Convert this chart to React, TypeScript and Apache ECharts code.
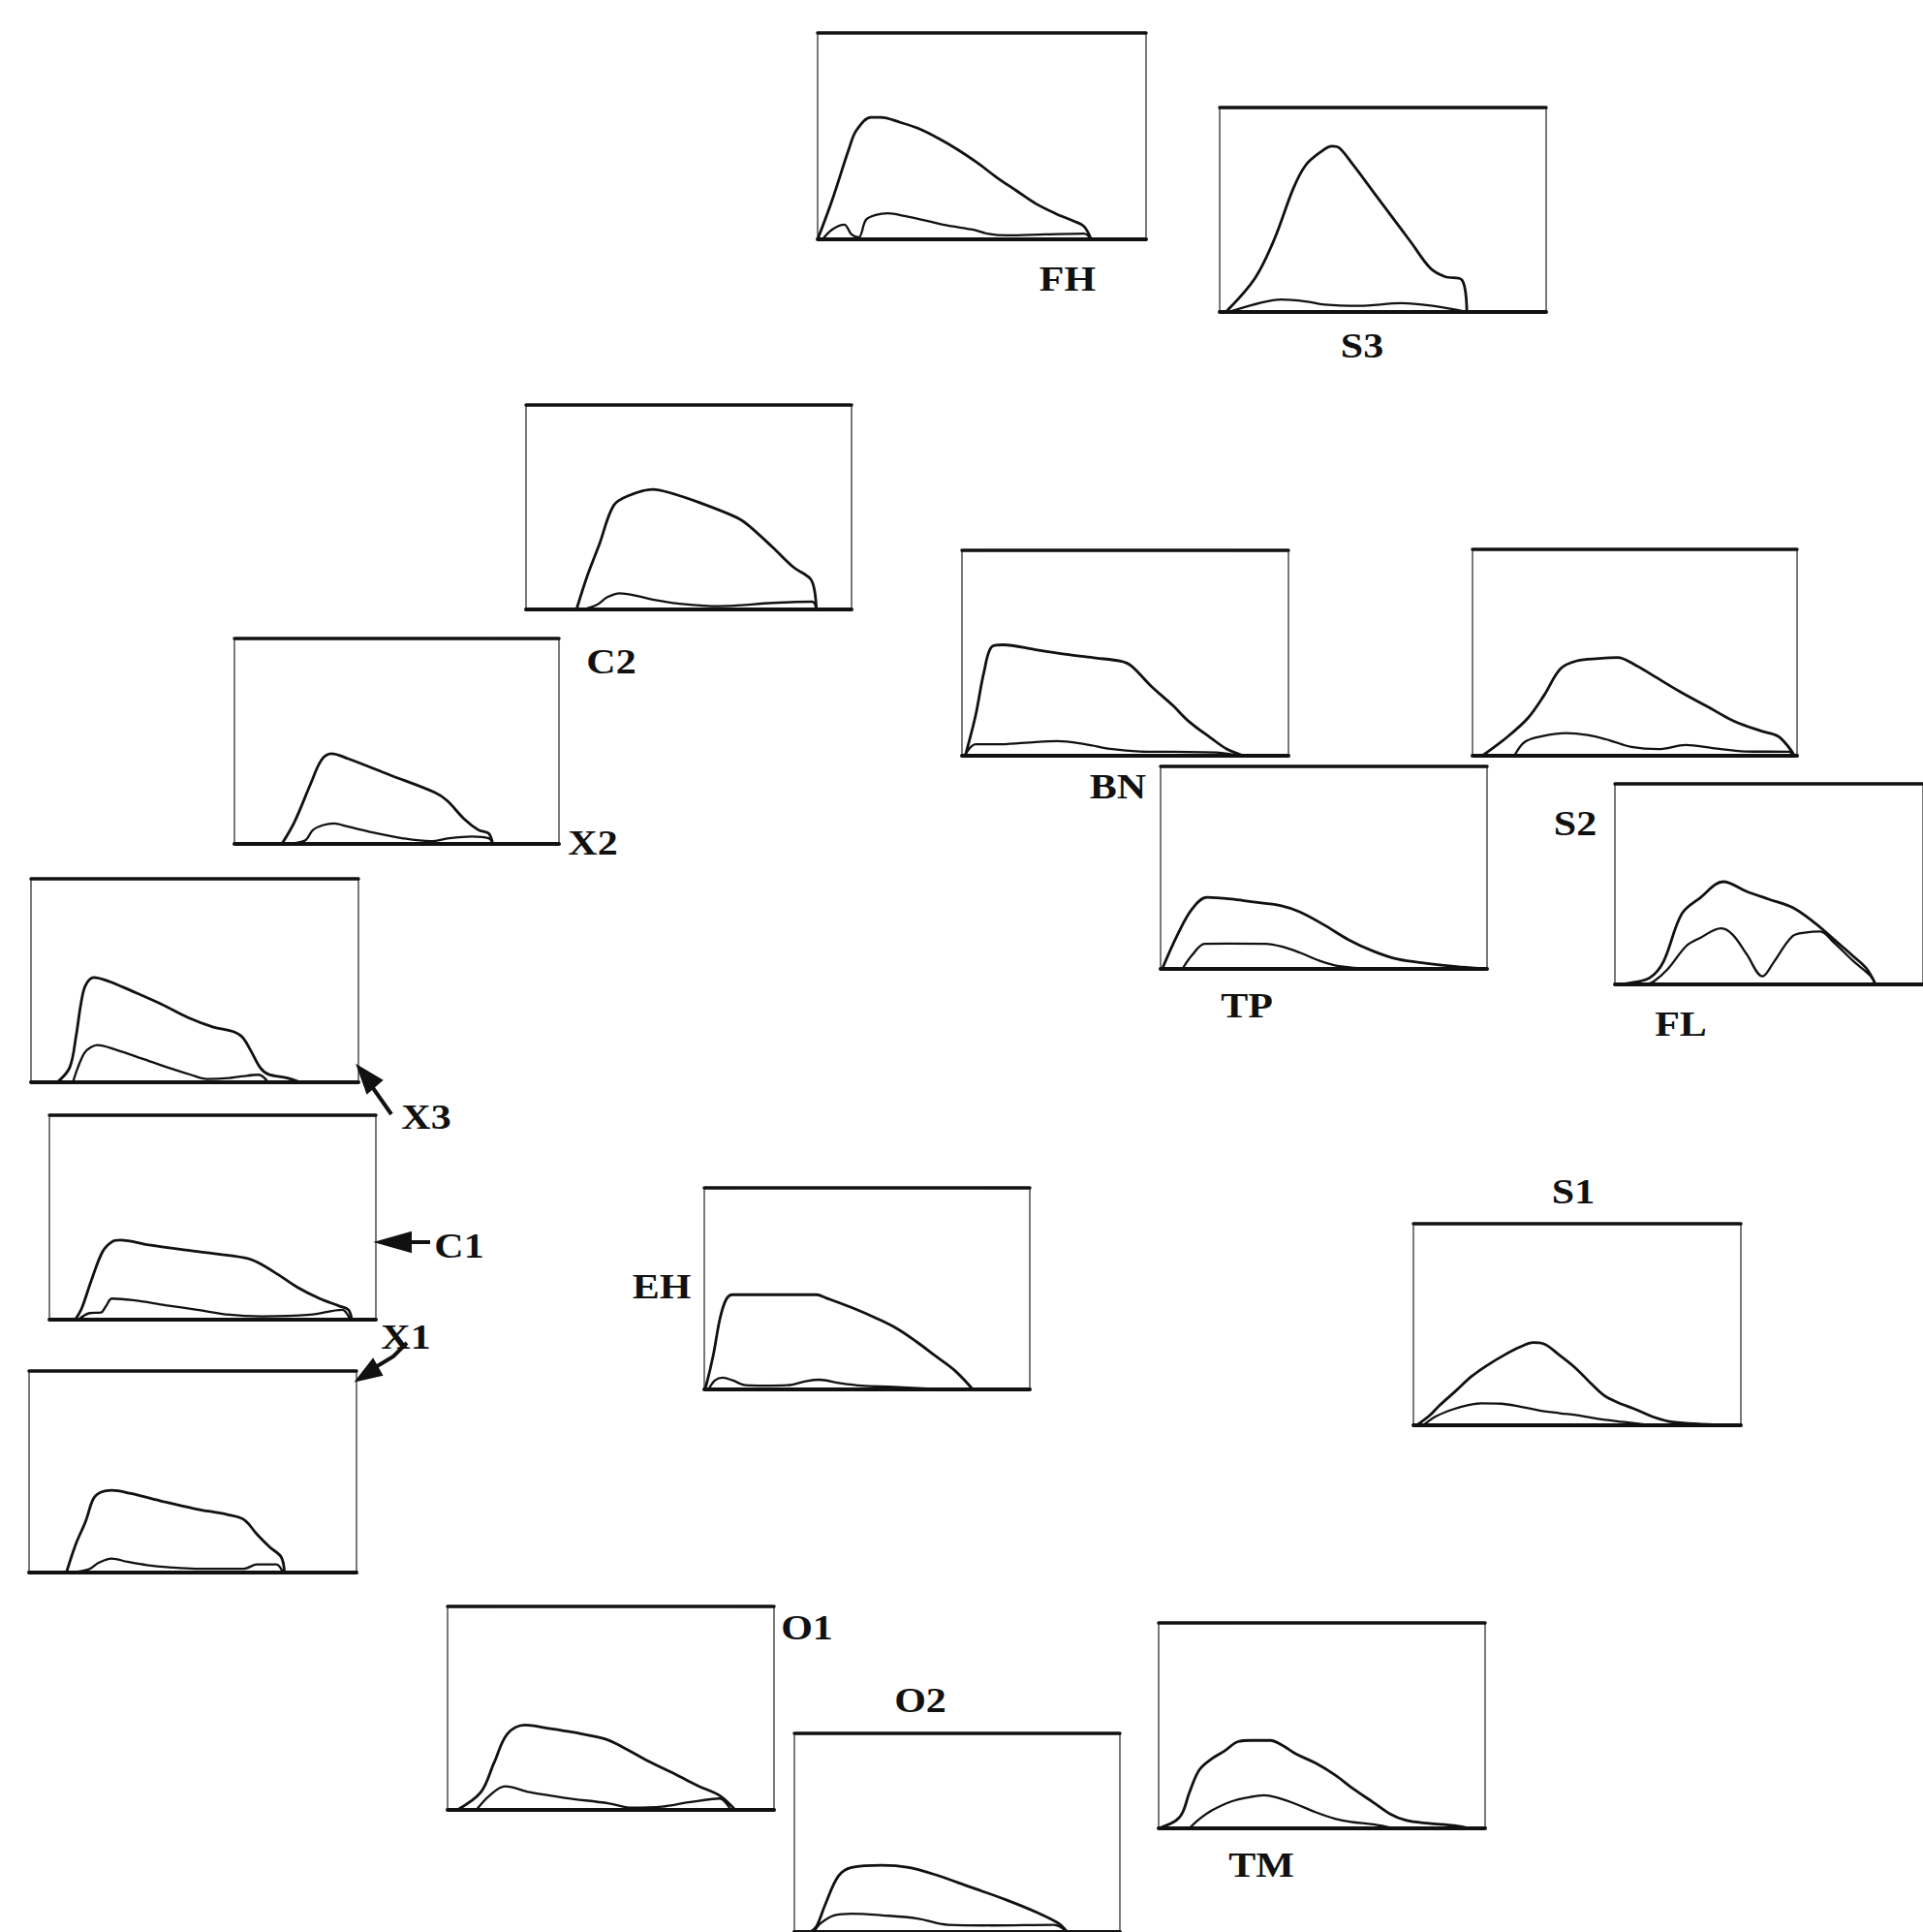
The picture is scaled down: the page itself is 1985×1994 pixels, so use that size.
import React, { useEffect, useRef } from "react";
import * as echarts from "echarts";

// ---- data: each panel has an upper and a lower profile, x and y in percent of the panel ----
const fhUpper = [[0,0],[4.4,18.9],[9.6,44.1],[11.8,52.8],[16.2,59.1],[19.2,59.1],[25.1,56.7],[31,53.5],[36.9,48.8],[42.8,43.3],[48.7,37],[54.6,29.9],[60.5,23.6],[66.4,17.3],[72.3,12.6],[78.2,8.7],[81.1,6.3],[83.3,0]];
const fhLower = [[1.5,0],[4.4,4.7],[8.1,7.1],[10.3,2.4],[12.5,1],[14.7,9.4],[17.7,11.8],[21.4,12.6],[26.5,11.3],[33.9,8.7],[39.8,6.6],[47.2,4.7],[51.6,2.8],[57.5,1.9],[69.3,2.4],[81.1,2.8],[83.3,0]];
const s3Upper = [[1.9,0],[10.8,16.5],[16.7,35.4],[22.6,60.6],[26.3,71.7],[30.7,78],[34.4,81.1],[36.6,80.3],[41,71.7],[46.9,59.1],[52.8,46.5],[58.7,33.9],[64.6,21.3],[69,17.3],[74.2,15.7],[75.7,0]];
const s3Lower = [[2.7,0],[13,4.7],[18.9,6.1],[26.3,5.2],[32.2,3.6],[42.5,3],[55.8,4.3],[64.6,3.1],[75.7,0]];
const c2Upper = [[15.5,0],[18.7,15.9],[22.5,31.7],[26.9,50.8],[31.4,55.6],[39,58.7],[44.1,57.1],[53,52.4],[64.4,45.2],[68.2,41.3],[75.9,30.2],[82.2,20.6],[87.3,15.1],[88.6,9.5],[89.2,0]];
const c2Lower = [[17.4,0],[21.9,2.4],[25,6],[28.8,7.9],[33.9,6.7],[40.3,4.4],[46.6,2.9],[59.3,1.6],[75.9,3.2],[87.9,3.8],[89.2,0]];
const x2Upper = [[14.6,0],[18.5,10.7],[23.6,29.7],[26.8,40.8],[29.9,43.9],[35,41.5],[47.8,33.6],[61.8,25],[65.6,21],[70.7,12.3],[75.2,6.8],[78.3,5.2],[79.6,0]];
const x2Lower = [[15.3,0],[21.7,1.6],[24.2,6.8],[27.4,9.2],[30.6,10],[35,8.4],[41.4,6],[51.6,2.8],[60.5,1.3],[66.2,2.8],[73.2,3.6],[78.3,2.8],[79.6,0]];
const bnUpper = [[1,0],[4.2,19.8],[6.7,40.5],[9.2,53.2],[12.6,54],[22.6,51.6],[32.7,49.2],[41,47.6],[48.6,46],[51.9,43.7],[57.8,34.1],[64.5,24.6],[69.5,16.7],[76.2,8.7],[81.2,3.2],[86.3,0]];
const bnLower = [[0.8,0],[4.2,5.6],[10.9,5.6],[19.3,6.3],[29.3,7.1],[37.7,5.6],[46.1,3.2],[54.4,2.1],[64.5,1.9],[77.9,1.6],[84.6,0]];
const s2Upper = [[3,0],[10.4,8.7],[17.1,18.3],[22.1,29.4],[27.1,42.1],[32.2,46],[38.9,47.1],[44.7,47.6],[49.7,44.4],[55.6,38.9],[64,31],[72.4,23.8],[80.7,16.7],[89.1,11.9],[94.1,9.5],[97.5,4],[99.2,0]];
const s2Lower = [[12.9,0],[16.2,6.8],[22.1,9.7],[28.8,11],[35.5,10],[42.2,7.5],[48.9,4.3],[57.3,3.2],[65.7,5.2],[74,3.7],[84.1,2.1],[97.5,1.9],[99,0]];
const tpUpper = [[0.5,0],[5.2,16.9],[9.7,29.7],[14.2,35.3],[21.7,34.5],[27.7,33.2],[36.7,31.3],[42.7,28.1],[50.1,21.7],[57.6,14.4],[65.1,8.8],[72.6,4.8],[81.6,2.7],[90.6,1.1],[99.6,0]];
const tpLower = [[6.7,0],[9.7,6.9],[13.5,12.4],[20.2,12.5],[32.2,12.4],[37.4,10.9],[42.7,8],[48.7,4],[54.6,1.4],[65.1,0]];
const flUpper = [[2,0],[5.2,0.8],[11.2,3.2],[15.7,11.2],[21.7,35.2],[27.7,43.2],[35.2,51.2],[42.7,46.4],[50.1,42.4],[57.6,38.4],[65.1,30.4],[71.1,22.4],[77.1,14.4],[81.6,8],[84.6,0]];
const flLower = [[10,0],[12.7,1.6],[17.2,7.7],[23.2,19.2],[27.7,23.2],[34.4,28],[38.2,24.8],[42.7,15.2],[47.9,4],[51.6,11.2],[57.6,24],[62.1,25.9],[66.6,26.4],[71.1,20.8],[77.1,12],[83.1,4],[84.6,0]];
const x3Upper = [[8,0],[11.8,7.2],[13.8,23.1],[15.3,39.1],[16.7,47.8],[19.2,51.5],[24.1,49.4],[31,44.7],[39.9,38.3],[47.8,31.9],[55.7,27.1],[61.6,25],[64.5,22.3],[67,15.9],[70,7.2],[72.4,4],[78.3,2.1],[82.3,0]];
const x3Lower = [[12.8,0],[14.3,7.2],[16.3,14.4],[18.2,17.1],[20.2,18.3],[26.1,15.9],[34,11.6],[41.9,7.2],[48.8,3.7],[53.7,1.6],[60.6,2.1],[69.5,3.7],[72.4,0]];
const c1Upper = [[7.9,0],[9.9,5.6],[12.8,19],[16.3,33.3],[19.2,38.1],[21.7,38.9],[30.5,36.5],[45.3,33.3],[60.1,30.2],[64,27.8],[69.9,22.2],[75.9,15.9],[82.8,10.3],[88.7,6.7],[91.6,4.8],[92.6,0]];
const c1Lower = [[8.9,0],[12.3,3.2],[15.8,3.5],[17.2,6.3],[19.2,10.3],[25.6,9.5],[35.5,7.1],[45.3,4.8],[55.2,2.4],[65,1.6],[79.8,2.4],[89.7,4.8],[92.1,0]];
const ehUpper = [[0,0],[0.6,2.1],[2.8,17.3],[4.8,35],[6.7,44.6],[8.7,47],[34.5,47],[37.4,45.4],[45.3,40.6],[53.3,35],[59.2,30.2],[65.1,23.8],[71.1,16.5],[77,9.3],[82.5,0]];
const ehLower = [[1.3,0],[3.3,4.5],[5.7,5.8],[8.7,4.5],[12.7,2.1],[18.6,1.9],[25.5,2.1],[31.5,4.2],[35.4,4.8],[41.4,3.2],[48.3,1.9],[58.2,1.3],[73.1,0]];
const s1Upper = [[1,0],[5,4.9],[7.9,9.7],[12.9,17],[17.8,24.3],[22.8,30],[27.7,34.8],[32.7,38.9],[36.6,41],[39.6,40.5],[44.6,34.8],[49.5,28.4],[54.5,20.3],[58.4,14.6],[62.4,11.3],[68.3,7.6],[73.3,4.1],[79.2,1.6],[96,0]];
const s1Lower = [[3,0],[6.9,4.4],[11.9,7.8],[16.8,10],[20.8,10.9],[26.7,10.7],[32.7,9.2],[38.6,7.3],[44.6,6],[50.5,4.9],[56.4,3.2],[64.4,1.6],[72.3,0]];
const x1Upper = [[11.4,0],[14.3,14.2],[17.3,25.5],[19.7,36.8],[22.2,40],[25.2,40.8],[31.1,39.2],[41,35.2],[50.8,31.6],[60.7,28.7],[65.6,26.3],[69.6,19],[73.5,12.6],[77,7.7],[78,0]];
const x1Lower = [[12.3,0],[18.3,1.6],[21.2,4.8],[25.2,6.9],[30.1,5.3],[36,3.7],[42.9,2.6],[50.8,1.9],[65.6,1.9],[69.6,4],[75.5,4],[77.5,0]];
const o1Upper = [[3,0],[10.2,8.7],[14.2,23],[18.3,37.3],[23.7,41.7],[30.5,40.2],[38.6,38.1],[48.1,34.9],[53.5,31],[61.7,23.8],[69.8,17.5],[76.6,11.9],[83.3,7.1],[88.1,0]];
const o1Lower = [[8.8,0],[12.9,7.1],[17.6,11.6],[25.1,8.7],[35.9,5.9],[49.5,3.2],[56.2,1.1],[65.7,1.6],[73.8,3.7],[83.3,5.6],[86.7,0]];
const o2Upper = [[5,0],[6.8,2.8],[9.5,13.9],[13.5,28.1],[17.6,32.5],[27,33.6],[35.1,32.5],[43.2,28.9],[54.1,22.6],[64.9,16.3],[74.3,10],[81.1,4.4],[83.8,0]];
const o2Lower = [[6,0],[8.1,4.4],[12.2,8.4],[17.6,9.2],[27,8.4],[37.8,6.8],[47.3,3.6],[60.8,3.3],[79.7,3.6],[83.8,0]];
const tmUpper = [[0,0],[5.4,3.9],[7.4,7.9],[9.4,17.3],[12.4,28.3],[16.3,33.9],[20.3,37.8],[24.3,42.2],[28.2,42.8],[34.2,42.8],[38.1,40.2],[42.1,36.2],[48,31.8],[54,26],[59.9,18.9],[65.8,12.6],[70.8,7.1],[75.7,3.9],[82.7,2.4],[90.6,1.3],[95,0]];
const tmLower = [[9.4,0],[12.4,4.4],[16.3,8.7],[22.3,13.1],[28.2,15.3],[32.2,16.1],[36.1,15],[42.1,11.8],[48,7.9],[54,4.7],[58.9,3.1],[65.8,1.9],[72,0]];

const panelNames = ["FH","S3","C2","BN","S2","X2","TP","FL","X3","C1","EH","S1","X1","O1","O2","TM"];
const upperSeries = [fhUpper,s3Upper,c2Upper,bnUpper,s2Upper,x2Upper,tpUpper,flUpper,x3Upper,c1Upper,ehUpper,s1Upper,x1Upper,o1Upper,o2Upper,tmUpper];
const lowerSeries = [fhLower,s3Lower,c2Lower,bnLower,s2Lower,x2Lower,tpLower,flLower,x3Lower,c1Lower,ehLower,s1Lower,x1Lower,o1Lower,o2Lower,tmLower];

// ---- layout (pixels): panel boxes [left, top, right, bottom] and label centres ----
const boxes = [
  [844,34,1183,247],[1259,111,1596,322],[543,418,879,629],[993,568,1330,780],
  [1520,567,1855,780],[242,659,577,871],[1198,791,1535,1000],[1667,809,2004,1016],
  [32,907,370,1117],[51,1151,388,1362],[727,1226,1063,1434],[1459,1263,1797,1471],
  [30,1415,368,1623],[462,1658,799,1868],[820,1789,1156,2000],[1196,1675,1533,1887],
];
const labelPos = [
  [1102,288],[1406,357],[631,683],[1154,812],[1626,850],[612,870],[1287,1038],[1735,1057],
  [440,1153],[474,1286],[683,1328],[1624,1230],[419,1380],[833,1680],[950,1755],[1302,1925],
];

export default function App() {
  const ref = useRef<HTMLDivElement>(null);
  useEffect(() => {
    const chart = echarts.init(ref.current!, null, { renderer: "svg" });
    const grid: any[] = [];
    const xAxis: any[] = [];
    const yAxis: any[] = [];
    const series: any[] = [];
    const hidden = { axisTick: { show: false }, axisLabel: { show: false }, splitLine: { show: false } };
    boxes.forEach((b, i) => {
      grid.push({ left: b[0], top: b[1], width: b[2] - b[0], height: b[3] - b[1], show: true, borderColor: "#333", borderWidth: 1.3, backgroundColor: "transparent" });
      xAxis.push({ gridIndex: i, type: "value", min: 0, max: 100, position: "bottom", axisLine: { show: true, onZero: false, lineStyle: { color: "#111", width: 4 } }, ...hidden });
      xAxis.push({ gridIndex: i, type: "value", min: 0, max: 100, position: "top", axisLine: { show: true, onZero: false, lineStyle: { color: "#111", width: 3.5 } }, ...hidden });
      yAxis.push({ gridIndex: i, type: "value", min: 0, max: 100, show: false });
      const common = { type: "line", xAxisIndex: 2 * i, yAxisIndex: i, showSymbol: false, symbol: "none", smooth: 0.35, silent: true, clip: true };
      series.push({ ...common, name: panelNames[i] + " upper", data: upperSeries[i], lineStyle: { color: "#111", width: 2.8 } });
      series.push({ ...common, name: panelNames[i] + " lower", data: lowerSeries[i], lineStyle: { color: "#111", width: 2.3 } });
    });
    const textStyle = (t: string) => ({ text: t, fill: "#111", fontSize: 35, fontWeight: "bold", fontFamily: "Liberation Serif, Times New Roman, serif", textAlign: "center", textVerticalAlign: "middle" });
    const graphic: any[] = panelNames.map((n, i) => ({ type: "text", x: labelPos[i][0], y: labelPos[i][1], scaleX: 1.2, style: textStyle(n) }));
    const arrowStyle = { stroke: "#111", lineWidth: 4, fill: "none" };
    const headStyle = { fill: "#111", stroke: "#111", lineWidth: 2 };
    // X3 arrow
    graphic.push({ type: "polyline", shape: { points: [[404, 1150], [378, 1113]] }, style: arrowStyle });
    graphic.push({ type: "polygon", shape: { points: [[369, 1100], [394, 1115], [379, 1128]] }, style: headStyle });
    // C1 arrow
    graphic.push({ type: "polyline", shape: { points: [[444, 1282], [405, 1282]] }, style: arrowStyle });
    graphic.push({ type: "polygon", shape: { points: [[389, 1282], [424, 1272], [424, 1292]] }, style: headStyle });
    // X1 arrow
    graphic.push({ type: "polyline", shape: { points: [[420, 1386], [406, 1400], [386, 1412]] }, style: arrowStyle });
    graphic.push({ type: "polygon", shape: { points: [[368, 1425], [394, 1419], [385, 1403]] }, style: headStyle });

    chart.setOption({ animation: false, backgroundColor: "#fff", grid, xAxis, yAxis, series, graphic });
    return () => chart.dispose();
  }, []);
  return <div ref={ref} style={{ position: "absolute", left: 0, top: 0, width: 1985, height: 1994, background: "#fff" }} />;
}
